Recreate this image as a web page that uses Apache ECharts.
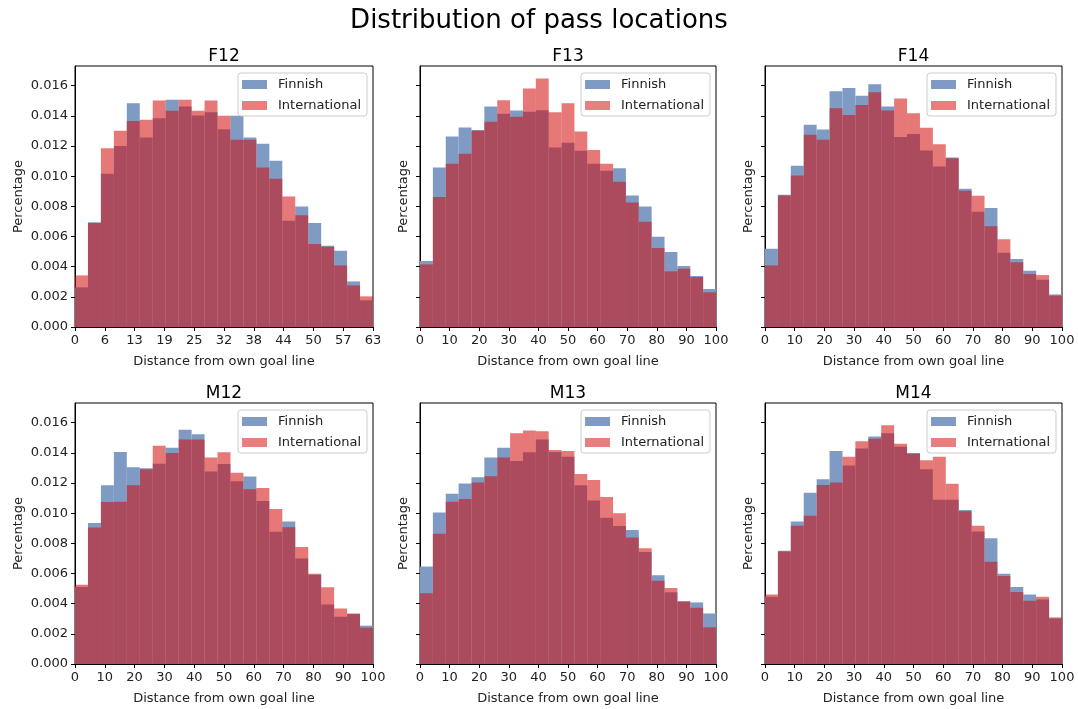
<!DOCTYPE html>
<html>
<head>
<meta charset="utf-8">
<script src="https://cdn.jsdelivr.net/npm/echarts@6/dist/echarts.min.js"></script>
<style>
    html, body { margin: 0; padding: 0; background: #fff; }
    #chart { width: 1078px; height: 709px; }
</style>
</head>
<body>
<div id="chart"></div>
<script>
// 面板名称与x轴范围
const panelNames = ['F12', 'F13', 'F14', 'M12', 'M13', 'M14']
const xMaxes = [63, 100, 100, 100, 100, 100]
const binCount = 23
const yTicks = [0, 0.002, 0.004, 0.006, 0.008, 0.010, 0.012, 0.014, 0.016]
const xTicksF12 = [0, 6.3, 12.6, 18.9, 25.2, 31.5, 37.8, 44.1, 50.4, 56.7, 63]
const xTicks100 = [0, 10, 20, 30, 40, 50, 60, 70, 80, 90, 100]

// 每个分箱的密度值
const f12Finnish = [0.00263, 0.00695, 0.01015, 0.0120, 0.01483, 0.01256, 0.01384, 0.01506, 0.01461, 0.01402, 0.01424, 0.01311, 0.0140, 0.01256, 0.01214, 0.01102, 0.00704, 0.00799, 0.00689, 0.00539, 0.00506, 0.00302, 0.00177]
const f12International = [0.00342, 0.0069, 0.01185, 0.0130, 0.01366, 0.01373, 0.01501, 0.01433, 0.01506, 0.01433, 0.01501, 0.0140, 0.01241, 0.01241, 0.01057, 0.00982, 0.00865, 0.0074, 0.0055, 0.00532, 0.00408, 0.00276, 0.00203]
const f13Finnish = [0.00437, 0.01057, 0.01263, 0.01322, 0.01305, 0.01461, 0.01413, 0.01435, 0.01426, 0.01437, 0.0119, 0.01221, 0.01168, 0.01082, 0.01035, 0.01053, 0.00872, 0.00799, 0.00598, 0.00497, 0.00404, 0.00338, 0.00252]
const f13International = [0.00415, 0.00861, 0.01082, 0.01148, 0.0130, 0.0136, 0.01503, 0.01393, 0.01581, 0.01647, 0.01424, 0.01483, 0.01296, 0.01174, 0.01082, 0.00962, 0.00826, 0.00698, 0.00523, 0.00369, 0.00386, 0.00331, 0.0023]
const f14Finnish = [0.00519, 0.00876, 0.01068, 0.0134, 0.01309, 0.01563, 0.01585, 0.01532, 0.01609, 0.01461, 0.0126, 0.0128, 0.0117, 0.01064, 0.01124, 0.00916, 0.00764, 0.00788, 0.00492, 0.0045, 0.00373, 0.00313, 0.00216]
const f14International = [0.00408, 0.00872, 0.01004, 0.01274, 0.01241, 0.0145, 0.01406, 0.01472, 0.01556, 0.01435, 0.01514, 0.01417, 0.0132, 0.01212, 0.01119, 0.00903, 0.0087, 0.00667, 0.00581, 0.0043, 0.00351, 0.00344, 0.00208]
const m12Finnish = [0.00511, 0.00934, 0.01184, 0.01405, 0.01304, 0.01298, 0.01328, 0.01433, 0.01552, 0.01523, 0.01276, 0.01326, 0.01212, 0.01243, 0.01081, 0.00877, 0.00945, 0.00699, 0.00592, 0.00395, 0.00313, 0.00331, 0.00254]
const m12International = [0.00526, 0.00905, 0.01074, 0.01076, 0.01184, 0.01291, 0.01447, 0.01398, 0.01488, 0.01488, 0.01368, 0.01403, 0.01267, 0.01159, 0.01166, 0.01028, 0.00907, 0.00776, 0.00598, 0.00508, 0.00368, 0.00335, 0.00241]
const m13Finnish = [0.00647, 0.01004, 0.01129, 0.01197, 0.01238, 0.01368, 0.01433, 0.01346, 0.01403, 0.01488, 0.01405, 0.01374, 0.01184, 0.01083, 0.00969, 0.00914, 0.00888, 0.00743, 0.00588, 0.00476, 0.00416, 0.00408, 0.00335]
const m13International = [0.00469, 0.00864, 0.01076, 0.01094, 0.01203, 0.01245, 0.01368, 0.0153, 0.01547, 0.01543, 0.01418, 0.01412, 0.0126, 0.01219, 0.01107, 0.00999, 0.00839, 0.00767, 0.00552, 0.00504, 0.00414, 0.00373, 0.00243]
const m14Finnish = [0.00445, 0.0075, 0.00945, 0.01135, 0.01225, 0.01412, 0.01315, 0.01429, 0.01508, 0.0153, 0.0144, 0.01398, 0.01291, 0.01089, 0.01089, 0.01021, 0.00879, 0.00833, 0.00598, 0.00511, 0.0046, 0.00427, 0.00302]
const m14International = [0.0046, 0.00745, 0.00916, 0.00982, 0.01186, 0.01203, 0.01374, 0.01477, 0.01493, 0.01582, 0.0146, 0.01394, 0.0135, 0.01374, 0.01195, 0.01013, 0.00916, 0.00677, 0.00583, 0.00478, 0.00419, 0.00445, 0.00309]

const finnishData = [f12Finnish, f13Finnish, f14Finnish, m12Finnish, m13Finnish, m14Finnish]
const internationalData = [f12International, f13International, f14International, m12International, m13International, m14International]

const FONT = 'DejaVu Sans'
const TXT = '#222'
const BLUE = '#7f9bc4'
const RED = 'rgba(210,10,10,0.55)'

const gridLefts = [75, 420, 765]
const gridWidths = [298, 296, 297]
const gridTops = [66, 403]
const gridHeight = 261

// 分箱 -> [起点, 终点, 值]
const toBins = (values, xMax) => values.map((v, i) => [i * xMax / binCount, (i + 1) * xMax / binCount, v])

const renderBin = (params, api) => {
    const p0 = api.coord([api.value(0), api.value(2)])
    const p1 = api.coord([api.value(1), 0])
    return {
        type: 'rect',
        shape: { x: p0[0], y: p0[1], width: p1[0] - p0[0], height: p1[1] - p0[1] },
        style: { fill: api.visual('color') }
    }
}

const grids = [], xAxes = [], yAxes = [], titles = [], legends = [], series = []

titles.push({
    text: 'Distribution of pass locations',
    left: 'center', top: 8, padding: 0,
    textStyle: { fontFamily: FONT, fontSize: 26, fontWeight: 'normal', color: '#000' }
})

panelNames.forEach((name, i) => {
    const col = i % 3
    const row = Math.floor(i / 3)
    const left = gridLefts[col]
    const top = gridTops[row]
    const width = gridWidths[col]
    const xMax = xMaxes[i]
    const xTicks = xMax === 63 ? xTicksF12 : xTicks100

    grids.push({ left, top, width, height: gridHeight, show: true, borderColor: '#000', borderWidth: 1, backgroundColor: 'transparent' })

    titles.push({
        text: name,
        left: left + width / 2, textAlign: 'center', top: top - 18, padding: 0,
        textStyle: { fontFamily: FONT, fontSize: 17, fontWeight: 'normal', color: '#000' }
    })

    xAxes.push({
        type: 'value', gridIndex: i, min: 0, max: xMax,
        name: 'Distance from own goal line', nameLocation: 'middle', nameGap: 28,
        nameTextStyle: { fontFamily: FONT, fontSize: 13, color: TXT },
        axisLine: { show: true, lineStyle: { color: '#000' } },
        axisTick: { show: true, length: 4, customValues: xTicks, lineStyle: { color: '#000' } },
        axisLabel: {
            customValues: xTicks, margin: 7, fontFamily: FONT, fontSize: 13, color: TXT,
            formatter: v => String(Math.round(v))
        },
        splitLine: { show: false }
    })

    yAxes.push({
        type: 'value', gridIndex: i, min: 0, max: 0.0173,
        name: 'Percentage', nameLocation: 'middle', nameGap: col === 0 ? 50 : 10,
        nameTextStyle: { fontFamily: FONT, fontSize: 13, color: TXT },
        axisLine: { show: true, lineStyle: { color: '#000' } },
        axisTick: { show: true, length: 4, customValues: yTicks, lineStyle: { color: '#000' } },
        axisLabel: {
            show: col === 0, customValues: yTicks, margin: 7, fontFamily: FONT, fontSize: 13, color: TXT,
            formatter: v => v.toFixed(3)
        },
        splitLine: { show: false }
    })

    legends.push({
        orient: 'vertical',
        right: 1078 - (left + width) + 6, top: top + 7,
        itemWidth: 25, itemHeight: 9, itemGap: 8,
        padding: [5, 6, 4, 4],
        backgroundColor: 'rgba(255,255,255,0.8)', borderColor: '#ccc', borderWidth: 1, borderRadius: 3,
        icon: 'rect', selectedMode: false,
        textStyle: { fontFamily: FONT, fontSize: 13, color: TXT, padding: [0, 0, 0, 6] },
        data: [
            { name: 'Finnish', itemStyle: { color: BLUE } },
            { name: 'International', itemStyle: { color: '#e87e7e' } }
        ]
    })

    series.push({
        name: 'Finnish', type: 'custom', xAxisIndex: i, yAxisIndex: i,
        renderItem: renderBin, itemStyle: { color: BLUE },
        encode: { x: [0, 1], y: 2 }, data: toBins(finnishData[i], xMax), silent: true
    })
    series.push({
        name: 'International', type: 'custom', xAxisIndex: i, yAxisIndex: i,
        renderItem: renderBin, itemStyle: { color: RED },
        encode: { x: [0, 1], y: 2 }, data: toBins(internationalData[i], xMax), silent: true
    })
})

const chart = echarts.init(document.getElementById('chart'), null, { renderer: 'canvas' })
chart.setOption({
    animation: false,
    backgroundColor: '#fff',
    title: titles,
    legend: legends,
    grid: grids,
    xAxis: xAxes,
    yAxis: yAxes,
    series
})
</script>
</body>
</html>
